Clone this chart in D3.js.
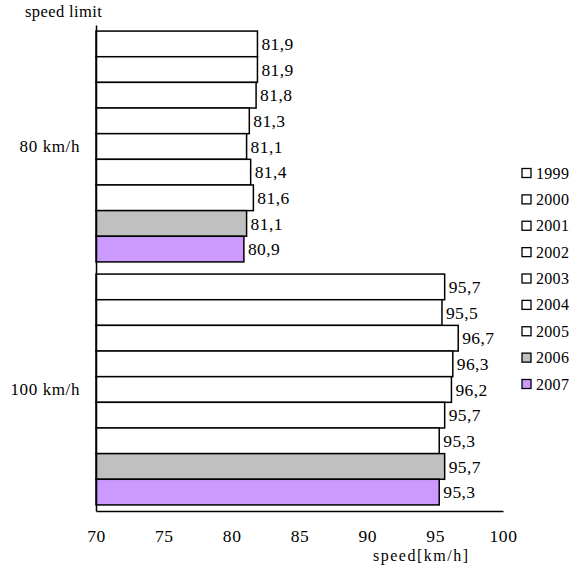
<!DOCTYPE html>
<html><head><meta charset="utf-8">
<script src="https://cdn.jsdelivr.net/npm/d3@7"></script>
<style>body{margin:0;background:#fff}svg text{font-family:'Liberation Serif','Times New Roman',serif;fill:#000}</style>
</head><body><svg id="c" width="584" height="568"></svg>
<script>
const categories = ["80 km/h", "100 km/h"];
const years = ["1999","2000","2001","2002","2003","2004","2005","2006","2007"];
const values80 = [81.9, 81.9, 81.8, 81.3, 81.1, 81.4, 81.6, 81.1, 80.9];
const values100 = [95.7, 95.5, 96.7, 96.3, 96.2, 95.7, 95.3, 95.7, 95.3];
const xTicks = [70, 75, 80, 85, 90, 95, 100];
const colors = ["#ffffff","#ffffff","#ffffff","#ffffff","#ffffff","#ffffff","#ffffff","#c0c0c0","#cc99ff"];

const series = [values80, values100];
const svg = d3.select("#c");
const FF = "'Liberation Serif','Times New Roman',serif";
const x = d3.scaleLinear().domain([70, 100]).range([96, 503]);
const y0 = d3.scaleBand().domain(categories).range([25, 511]).paddingInner(0.05).paddingOuter(0.025);
const y1 = d3.scaleBand().domain(years).range([0, y0.bandwidth()]);
const color = d3.scaleOrdinal().domain(years).range(colors);
const fmt = v => String(v.toFixed(1)).replace(".", ",");

categories.forEach((cat, ci) => {
  const g = svg.append("g").attr("transform", `translate(0,${y0(cat)})`);
  const data = years.map((yr, i) => ({yr, v: series[ci][i]}));
  g.selectAll("rect").data(data).join("rect")
    .attr("x", x(70)).attr("y", d => y1(d.yr))
    .attr("width", d => x(d.v) - x(70)).attr("height", y1.bandwidth())
    .attr("fill", d => color(d.yr)).attr("stroke", "#000").attr("stroke-width", 1.5);
  g.selectAll("text.v").data(data).join("text").attr("class","v")
    .attr("x", d => x(d.v) + 4).attr("y", d => y1(d.yr) + y1.bandwidth()/2)
    .attr("dy", "0.35em").attr("font-size", 17.5).attr("letter-spacing", 0.4)
    .style("font-family", FF).text(d => fmt(d.v));
});

const xAxis = d3.axisBottom(x).tickValues(xTicks).tickSize(0).tickPadding(19);
const gx = svg.append("g").attr("transform", "translate(0,511)").call(xAxis);
gx.select(".domain").attr("stroke", "#000").attr("stroke-width", 1.5);
gx.selectAll("text").attr("font-size", 17.5).attr("letter-spacing", 0.6).style("font-family", FF);

const yAxis = d3.axisLeft(y0).tickSize(0).tickPadding(16);
const gy = svg.append("g").attr("transform", `translate(${x(70)},0)`).call(yAxis);
gy.select(".domain").attr("stroke", "#000").attr("stroke-width", 1.5);
gy.selectAll("text").attr("font-size", 17).attr("letter-spacing", 0.6).style("font-family", FF);

svg.append("text").attr("x", 25).attr("y", 17).attr("font-size", 16.5).attr("letter-spacing", 0.4)
  .style("font-family", FF).text("speed limit");
svg.append("text").attr("x", 373).attr("y", 561).attr("font-size", 16).attr("letter-spacing", 1.5)
  .style("font-family", FF).text("speed[km/h]");

const lg = svg.append("g").attr("transform", "translate(522,0)");
const ly = d3.scalePoint().domain(years).range([173, 384]);
lg.selectAll("rect").data(years).join("rect")
  .attr("x", 0).attr("y", d => ly(d) - 4.5).attr("width", 9).attr("height", 9)
  .attr("fill", d => color(d)).attr("stroke", "#000").attr("stroke-width", 1.3);
lg.selectAll("text").data(years).join("text")
  .attr("x", 14).attr("y", d => ly(d)).attr("dy", "0.35em").attr("font-size", 16).attr("letter-spacing", 0.3)
  .style("font-family", FF).text(d => d);
</script></body></html>
